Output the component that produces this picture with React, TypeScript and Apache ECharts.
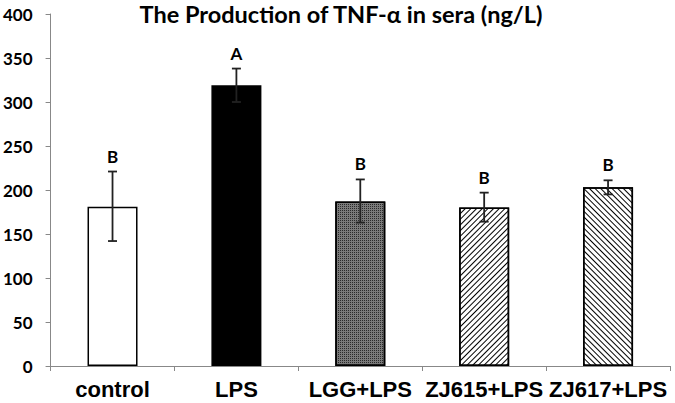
import React, { useEffect, useRef } from "react";
import * as echarts from "echarts";

const categories = ["control", "LPS", "LGG+LPS", "ZJ615+LPS", "ZJ617+LPS"];
const means = [181, 319, 187, 180, 203];
const errLow = [142, 300, 163, 164, 195];
const errHigh = [221, 338, 212, 197, 211];
const letters = ["B", "A", "B", "B", "B"];
const yTicks = { min: 0, max: 400, interval: 50 };

export default function App() {
  const ref = useRef<HTMLDivElement>(null);
  useEffect(() => {
    document.body.style.margin = "0";
    const chart = echarts.init(ref.current!, undefined, { renderer: "svg" });
    const barStyles: any[] = [
      { color: "#ffffff" },
      { color: "#000000" },
      {
        color: "#7a7a7a",
        decal: { symbol: "rect", symbolSize: 1, dashArrayX: [1, 1], dashArrayY: [1, 1], color: "#2a2a2a", rotation: 0 },
      },
      {
        color: "#ffffff",
        decal: { symbol: "rect", symbolSize: 1, dashArrayX: [1, 0], dashArrayY: [1, 2.6], color: "#000000", rotation: -Math.PI / 4 },
      },
      {
        color: "#ffffff",
        decal: { symbol: "rect", symbolSize: 1, dashArrayX: [1, 0], dashArrayY: [1, 2.6], color: "#000000", rotation: Math.PI / 4 },
      },
    ];
    chart.setOption({
      animation: false,
      title: {
        text: "The Production of TNF-α in sera (ng/L)",
        left: 341,
        top: 2,
        padding: 0,
        textAlign: "center",
        textStyle: { fontFamily: "Lato", fontWeight: "bold", fontSize: 23.5, color: "#000" },
      },
      grid: { left: 50, right: 5, top: 14, bottom: 37 },
      xAxis: {
        type: "category",
        data: categories,
        axisLine: { lineStyle: { color: "#888", width: 1 } },
        axisTick: { show: true, length: 5, lineStyle: { color: "#888" } },
        axisLabel: {
          interval: 0,
          margin: 12,
          color: "#000",
          fontFamily: "Liberation Sans",
          fontWeight: "bold",
          fontSize: 22,
        },
      },
      yAxis: {
        type: "value",
        min: yTicks.min,
        max: yTicks.max,
        interval: yTicks.interval,
        splitLine: { show: false },
        axisLine: { show: true, lineStyle: { color: "#888", width: 1 } },
        axisTick: { show: true, length: 5, lineStyle: { color: "#888" } },
        axisLabel: {
          margin: 18,
          color: "#000",
          fontFamily: "Lato",
          fontWeight: "bold",
          fontSize: 17,
        },
      },
      series: [
        {
          type: "bar",
          barWidth: 50,
          data: means.map((v, i) => ({
            value: v,
            itemStyle: { ...barStyles[i], borderColor: "#000", borderWidth: 1.5 },
          })),
        },
        {
          type: "custom",
          data: categories.map((_, i) => [i, errLow[i], errHigh[i], letters[i]]),
          renderItem: (params: any, api: any) => {
            const x = api.value(0);
            const lo = api.coord([x, api.value(1)]);
            const hi = api.coord([x, api.value(2)]);
            const letter = letters[params.dataIndex];
            const cap = 4.5;
            const st = { stroke: "#222", lineWidth: 1.8 };
            return {
              type: "group",
              children: [
                { type: "line", shape: { x1: lo[0], y1: lo[1], x2: hi[0], y2: hi[1] }, style: st },
                { type: "line", shape: { x1: hi[0] - cap, y1: hi[1], x2: hi[0] + cap, y2: hi[1] }, style: st },
                { type: "line", shape: { x1: lo[0] - cap, y1: lo[1], x2: lo[0] + cap, y2: lo[1] }, style: st },
                {
                  type: "text",
                  x: hi[0],
                  y: hi[1] - 7,
                  style: {
                    text: letter,
                    align: "center",
                    verticalAlign: "bottom",
                    fill: "#000",
                    font: "bold 17px Lato",
                  },
                },
              ],
            };
          },
          z: 5,
        },
      ],
    });
    return () => chart.dispose();
  }, []);
  return <div ref={ref} style={{ width: 675, height: 403 }} />;
}
